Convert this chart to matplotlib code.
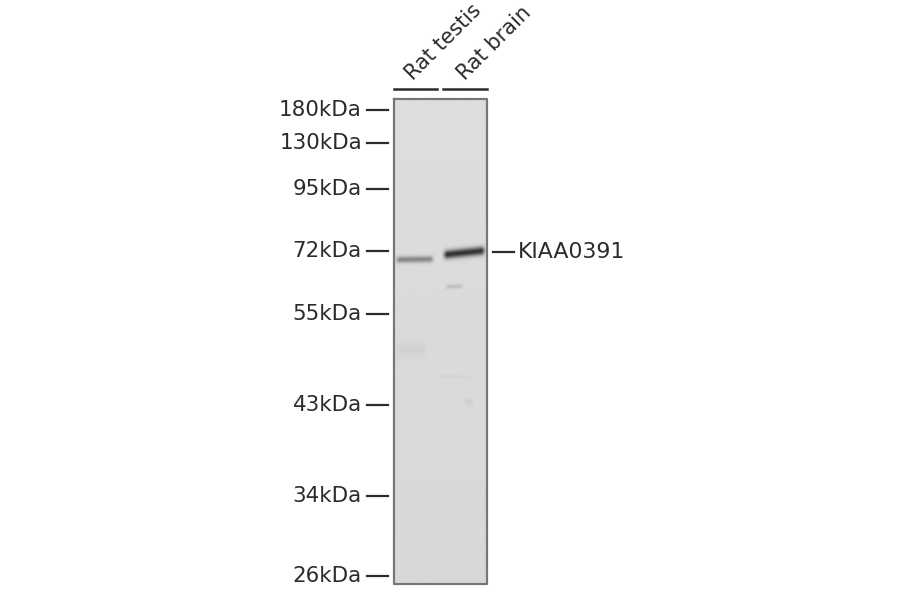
import numpy as np
import matplotlib
matplotlib.use("Agg")
import matplotlib.pyplot as plt

# marker ladder (row = pixel row on the image)
marker_labels = ["180kDa", "130kDa", "95kDa", "72kDa", "55kDa", "43kDa", "34kDa", "26kDa"]
marker_rows = [110, 143, 189, 251, 314, 405, 496, 576]

lane_labels = ["Rat testis", "Rat brain"]
lane_left = [394, 443]
lane_right = [437, 487]
lane_text_x = [416, 468]

target_label = "KIAA0391"
target_row = 252

# bands on the membrane: left, right, row at left, row at right, half height, darkness
band_left = [397, 445, 447, 397, 438, 466]
band_right = [432, 484, 462, 425, 470, 472]
band_row_a = [259.5, 254.5, 287, 350, 376, 402]
band_row_b = [259.0, 250.5, 286, 350, 377, 402]
band_half = [3.2, 4.2, 2.2, 8, 1.5, 3]
band_dark = [85, 170, 28, 9, 7, 14]

# background grey of the membrane, top to bottom
bg_rows = [99, 300, 584]
bg_grey = [222, 219, 216]

panel_x = (394, 487)
panel_y = (99, 584)

xx, yy = np.meshgrid(np.arange(panel_x[0], panel_x[1] + 1),
                     np.arange(panel_y[0], panel_y[1] + 1))
blot = np.interp(yy, bg_rows, bg_grey).astype(float)
for x0, x1, r0, r1, h, d in zip(band_left, band_right, band_row_a, band_row_b, band_half, band_dark):
    centre = r0 + (r1 - r0) * (xx - x0) / (x1 - x0)
    across = np.exp(-((yy - centre) / h) ** 2)
    along = np.clip((xx - x0 + 3) / 5, 0, 1) * np.clip((x1 - xx + 3) / 5, 0, 1)
    blot -= d * across * along

fig = plt.figure(figsize=(9, 5.94), dpi=100)
ax = fig.add_axes([0, 0, 1, 1])
ax.axis("off")

ax.imshow(blot, cmap="gray", vmin=0, vmax=255, aspect="auto", interpolation="bilinear",
          extent=(panel_x[0], panel_x[1], panel_y[1], panel_y[0]))
ax.set_xlim(0, 900)
ax.set_ylim(594, 0)
ax.plot([panel_x[0], panel_x[1], panel_x[1], panel_x[0], panel_x[0]],
        [panel_y[0], panel_y[0], panel_y[1], panel_y[1], panel_y[0]],
        color="#777777", lw=1.6)

text_col = "#2b2b2b"
for lab, row in zip(marker_labels, marker_rows):
    ax.text(362, row, lab, ha="right", va="center", fontsize=15.4, color=text_col,
            family="DejaVu Sans")
    ax.plot([367, 388], [row, row], color=text_col, lw=1.6)

for lab, x0, x1, tx in zip(lane_labels, lane_left, lane_right, lane_text_x):
    ax.plot([x0, x1], [89, 89], color=text_col, lw=1.8)
    ax.text(tx, 84, lab, rotation=45, rotation_mode="anchor", ha="left", va="bottom",
            fontsize=15, color=text_col, family="DejaVu Sans")

ax.plot([493, 514], [target_row, target_row], color=text_col, lw=1.6)
ax.text(518, target_row, target_label, ha="left", va="center", fontsize=15.8,
        color=text_col, family="DejaVu Sans")

fig.savefig("out.png", dpi=100)
